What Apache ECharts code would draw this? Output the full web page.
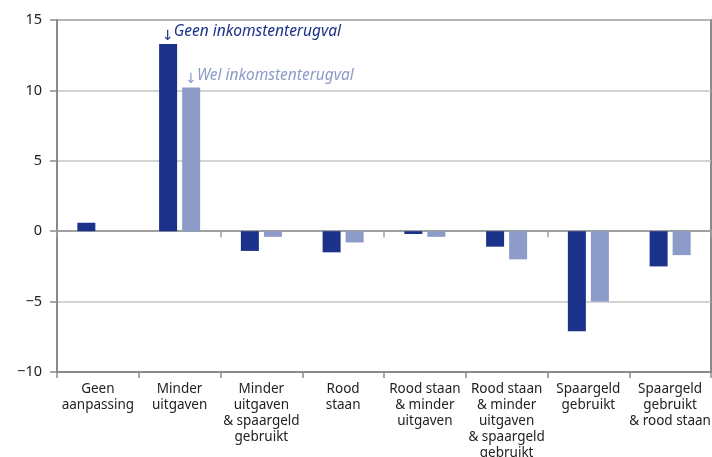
<!DOCTYPE html>
<html>
<head>
<meta charset="utf-8">
<script src="https://cdn.jsdelivr.net/npm/echarts@6/dist/echarts.min.js"></script>
<style>
  html, body { margin: 0; padding: 0; background: #fff; }
  #chart { width: 712px; height: 457px; }
</style>
</head>
<body>
<div id="chart"></div>
<script>
// Categories of financial adjustment
const categories = [
  'Geen\naanpassing',
  'Minder\nuitgaven',
  'Minder\nuitgaven\n& spaargeld\ngebruikt',
  'Rood\nstaan',
  'Rood staan\n& minder\nuitgaven',
  'Rood staan\n& minder\nuitgaven\n& spaargeld\ngebruikt',
  'Spaargeld\ngebruikt',
  'Spaargeld\ngebruikt\n& rood staan'
];

// Series values (percentage points)
const geenInkomstenterugval = [0.6, 13.3, -1.4, -1.5, -0.2, -1.1, -7.1, -2.5];
const welInkomstenterugval  = [null, 10.2, -0.4, -0.8, -0.4, -2.0, -5.0, -1.7];

// Series names, shown as callouts above the second category
const seriesNames = ['Geen inkomstenterugval', 'Wel inkomstenterugval'];

// Value axis ticks
const yMin = -10, yMax = 15, yStep = 5;

const DARK = '#1c318a';
const LIGHT = '#8c9bc8';
const FONT = '"Noto Sans", "Open Sans", sans-serif';

function calloutData(values, color, name) {
  return values.map((v, i) => {
    if (i !== 1) return v;
    return {
      value: v,
      label: {
        show: true,
        position: 'top',
        align: 'left',
        distance: 1,
        offset: [-6, 0],
        formatter: '{a|↓}{b|' + name + '}',
        rich: {
          a: { color: color, fontSize: 14, fontFamily: 'DejaVu Sans', verticalAlign: 'bottom', padding: [0, 0, 0, 0] },
          b: { color: color, fontSize: 15.5, fontStyle: 'italic', fontFamily: FONT, verticalAlign: 'bottom', padding: [0, 0, 3, 0] }
        }
      }
    };
  });
}

const chart = echarts.init(document.getElementById('chart'), null, { renderer: 'canvas' });

chart.setOption({
  animation: false,
  backgroundColor: '#fff',
  grid: {
    left: 57, right: 1, top: 20, bottom: 85,
    outerBoundsMode: 'none',
    containLabel: false,
    show: true, borderColor: '#8a8a8a', borderWidth: 2, backgroundColor: 'transparent'
  },
  xAxis: [
    {
      type: 'category',
      data: categories,
      position: 'bottom',
      axisLine: { onZero: false, lineStyle: { color: '#8a8a8a', width: 2 } },
      axisTick: { show: true, length: 6, lineStyle: { color: '#8a8a8a', width: 1.5 } },
      axisLabel: {
        interval: 0, margin: 9,
        color: '#222', fontSize: 13.5, lineHeight: 16, fontFamily: FONT
      },
      splitLine: { show: false }
    },
    {
      type: 'category',
      data: categories,
      position: 'top',
      axisLine: { onZero: true, lineStyle: { color: '#a0a0a0', width: 2 } },
      axisTick: { show: true, inside: true, length: 6, lineStyle: { color: '#a0a0a0', width: 1.5 } },
      axisLabel: { show: false },
      splitLine: { show: false }
    }
  ],
  yAxis: {
    type: 'value',
    min: yMin, max: yMax, interval: yStep,
    axisLine: { show: true, lineStyle: { color: '#8a8a8a', width: 2 } },
    axisTick: { show: true, length: 7, lineStyle: { color: '#8a8a8a', width: 1.5 } },
    axisLabel: {
      margin: 15, color: '#222', fontSize: 14.5, fontFamily: FONT,
      formatter: v => String(v).replace('-', '\u2212')
    },
    splitLine: { show: true, lineStyle: { color: '#c4c4c4', width: 1.5 } }
  },
  series: [
    {
      name: seriesNames[0],
      type: 'bar',
      xAxisIndex: 0,
      data: calloutData(geenInkomstenterugval, DARK, seriesNames[0]),
      barWidth: 18,
      barGap: '28%',
      itemStyle: { color: DARK }
    },
    {
      name: seriesNames[1],
      type: 'bar',
      xAxisIndex: 0,
      data: calloutData(welInkomstenterugval, LIGHT, seriesNames[1]),
      barWidth: 18,
      itemStyle: { color: LIGHT }
    }
  ]
});
</script>
</body>
</html>
